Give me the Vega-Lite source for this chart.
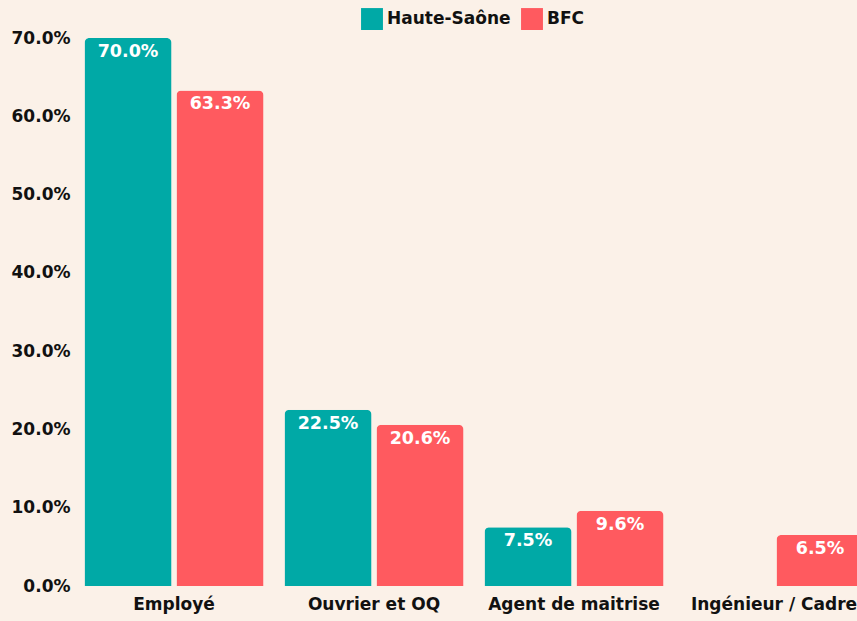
{
  "$schema": "https://vega.github.io/schema/vega-lite/v6.json",
  "autosize": "none",
  "width": 800,
  "height": 548,
  "padding": {"left": 74, "top": 38, "right": 0, "bottom": 35},
  "background": "#FBF1E8",
  "config": {
    "view": {"stroke": null},
    "font": "DejaVu Sans",
    "axis": {"labelFont": "DejaVu Sans", "labelFontWeight": "bold", "labelFontSize": 17, "labelColor": "#111111", "title": null, "domain": false, "ticks": false, "grid": false},
    "legend": {"labelFont": "DejaVu Sans", "labelFontWeight": "bold", "labelFontSize": 17, "labelColor": "#111111"}
  },
  "data": {
    "values": [
      {"cat": "Employé", "zone": "Haute-Saône", "v": 0.700},
      {"cat": "Employé", "zone": "BFC", "v": 0.633},
      {"cat": "Ouvrier et OQ", "zone": "Haute-Saône", "v": 0.225},
      {"cat": "Ouvrier et OQ", "zone": "BFC", "v": 0.206},
      {"cat": "Agent de maitrise", "zone": "Haute-Saône", "v": 0.075},
      {"cat": "Agent de maitrise", "zone": "BFC", "v": 0.096},
      {"cat": "Ingénieur / Cadre", "zone": "BFC", "v": 0.065}
    ]
  },
  "encoding": {
    "x": {"field": "cat", "type": "nominal", "sort": ["Employé", "Ouvrier et OQ", "Agent de maitrise", "Ingénieur / Cadre"],
      "scale": {"paddingInner": 0.105, "paddingOuter": 0.0525},
      "axis": {"labelAngle": 0, "labelPadding": 10}},
    "xOffset": {"field": "zone", "type": "nominal", "sort": ["Haute-Saône", "BFC"], "scale": {"paddingInner": 0.054}},
    "y": {"field": "v", "type": "quantitative", "scale": {"domain": [0, 0.7], "nice": false},
      "axis": {"values": [0, 0.1, 0.2, 0.3, 0.4, 0.5, 0.6, 0.7], "format": ".1%", "labelPadding": 4}}
  },
  "layer": [
    {
      "mark": {"type": "bar", "cornerRadiusTopLeft": 5, "cornerRadiusTopRight": 5},
      "encoding": {
        "color": {"field": "zone", "type": "nominal", "sort": ["Haute-Saône", "BFC"],
          "scale": {"domain": ["Haute-Saône", "BFC"], "range": ["#00A9A6", "#FF5A5F"]},
          "legend": {"title": null, "orient": "none", "direction": "horizontal", "legendX": 287, "legendY": -30, "symbolType": "square", "symbolSize": 480, "symbolOpacity": 1, "symbolStrokeWidth": 0, "columnPadding": 10, "labelOffset": 4}}
      }
    },
    {
      "mark": {"type": "text", "color": "white", "fontWeight": "bold", "fontSize": 17.5, "baseline": "top", "dy": 5},
      "encoding": {"text": {"field": "v", "type": "quantitative", "format": ".1%"}}
    }
  ]
}
